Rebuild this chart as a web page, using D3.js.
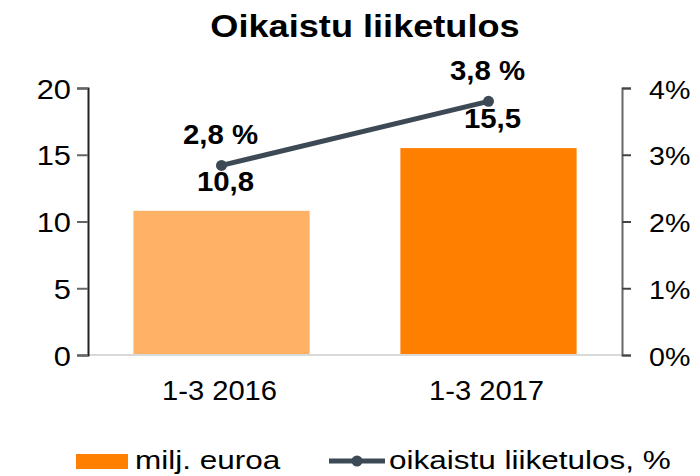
<!DOCTYPE html>
<html>
<head>
<meta charset="utf-8">
<script src="https://cdn.jsdelivr.net/npm/d3@7"></script>
<style>
  body { margin: 0; background: #fff; }
  text { font-family: "Liberation Sans", Arial, sans-serif; fill: #000; }
</style>
</head>
<body>
<div class="chart"></div>
<script>
  // Chart data
  const categories = ['1-3 2016', '1-3 2017'];
  const euroValues = [10.8, 15.5];
  const percentValues = [0.0284, 0.038];
  const barColors = ['#FFB266', '#FF8000'];
  const leftTicks = [0, 5, 10, 15, 20];
  const rightTicks = [0, 0.01, 0.02, 0.03, 0.04];
  const legendLabels = ['milj. euroa', 'oikaistu liiketulos, %'];

  const W = 700, H = 476;
  const margin = {top: 88, right: 78, bottom: 121, left: 88};
  const lineColor = '#3D4A55';
  const commaFormat = d3.format('.1f');
  const fmt = v => commaFormat(v).replace('.', ',');

  const svg = d3.select('.chart').append('svg')
      .attr('width', W)
      .attr('height', H);

  const x = d3.scaleBand()
      .domain(categories)
      .range([margin.left, W - margin.right])
      .paddingInner(0.34)
      .paddingOuter(0.17);

  const yLeft = d3.scaleLinear()
      .domain([0, 20])
      .range([H - margin.bottom, margin.top]);

  const yRight = d3.scaleLinear()
      .domain([0, 0.04])
      .range([H - margin.bottom, margin.top]);

  // text helper: place at (px, py) and stretch horizontally by k
  function addText(g, str, px, py, opts) {
    return g.append('text')
        .attr('transform', `translate(${px},${py}) scale(${opts.k || 1},1)`)
        .attr('text-anchor', opts.anchor || 'middle')
        .style('font-size', opts.size + 'px')
        .style('font-weight', opts.bold ? 'bold' : 'normal')
        .text(str);
  }

  // title
  addText(svg, 'Oikaistu liiketulos', 365, 37, {size: 32, bold: true, k: 1.13});

  // bars
  svg.append('g').selectAll('rect')
    .data(euroValues)
    .join('rect')
      .attr('x', (d, i) => x(categories[i]))
      .attr('y', d => yLeft(d))
      .attr('width', x.bandwidth())
      .attr('height', d => yLeft(0) - yLeft(d))
      .attr('fill', (d, i) => barColors[i]);

  // baseline
  svg.append('line')
      .attr('x1', margin.left).attr('x2', W - margin.right)
      .attr('y1', yLeft(0)).attr('y2', yLeft(0))
      .attr('stroke', '#D9D9D9').attr('stroke-width', 2);

  // left axis
  const gl = svg.append('g')
      .attr('transform', `translate(${margin.left},0)`)
      .call(d3.axisLeft(yLeft).tickValues(leftTicks).tickSize(11).tickPadding(6));
  gl.select('.domain').attr('stroke', '#222').attr('stroke-width', 2);
  gl.selectAll('.tick line').attr('stroke', '#666').attr('stroke-width', 2);
  gl.selectAll('.tick text').remove();
  gl.selectAll('.tick').each(function(d) {
    addText(d3.select(this), d, -17, 10, {size: 28, anchor: 'end', k: 1.1});
  });

  // right axis
  const gr = svg.append('g')
      .attr('transform', `translate(${W - margin.right},0)`)
      .call(d3.axisRight(yRight).tickValues(rightTicks).tickSize(9));
  gr.select('.domain').attr('stroke', '#666').attr('stroke-width', 2);
  gr.selectAll('.tick line').attr('stroke', '#444').attr('stroke-width', 2);
  gr.selectAll('.tick text').remove();
  gr.selectAll('.tick').each(function(d) {
    addText(d3.select(this), d3.format('.0%')(d), 27, 10, {size: 26, anchor: 'start', k: 1.1});
  });

  // category labels
  categories.forEach(c => {
    addText(svg, c, x(c) + x.bandwidth() / 2 - 2, 400, {size: 27, k: 1.08});
  });

  // line series
  const pts = percentValues.map((v, i) => [x(categories[i]) + x.bandwidth() / 2, yRight(v)]);
  svg.append('path')
      .attr('d', d3.line()(pts))
      .attr('fill', 'none')
      .attr('stroke', lineColor)
      .attr('stroke-width', 5);
  svg.append('g').selectAll('circle')
    .data(pts)
    .join('circle')
      .attr('cx', d => d[0])
      .attr('cy', d => d[1])
      .attr('r', 5.5)
      .attr('fill', lineColor);

  // data labels
  euroValues.forEach((v, i) => {
    const cx = x(categories[i]) + x.bandwidth() / 2;
    addText(svg, fmt(v), cx + 4, yLeft(v) - 20, {size: 28, bold: true, k: 1.05});
  });
  percentValues.forEach((v, i) => {
    const cx = x(categories[i]) + x.bandwidth() / 2;
    addText(svg, fmt(v * 100) + ' %', cx - 1, yRight(v) - 21, {size: 28, bold: true, k: 1.05});
  });

  // legend
  const lg = svg.append('g');
  lg.append('rect')
      .attr('x', 76).attr('y', 454).attr('width', 52).attr('height', 15)
      .attr('fill', barColors[1]);
  addText(lg, legendLabels[0], 135, 469, {size: 25, anchor: 'start', k: 1.26});
  lg.append('line')
      .attr('x1', 329).attr('x2', 385).attr('y1', 461).attr('y2', 461)
      .attr('stroke', lineColor).attr('stroke-width', 5);
  lg.append('circle')
      .attr('cx', 357).attr('cy', 461).attr('r', 5.5)
      .attr('fill', lineColor);
  addText(lg, legendLabels[1], 389, 469, {size: 25, anchor: 'start', k: 1.26});
</script>
</body>
</html>
